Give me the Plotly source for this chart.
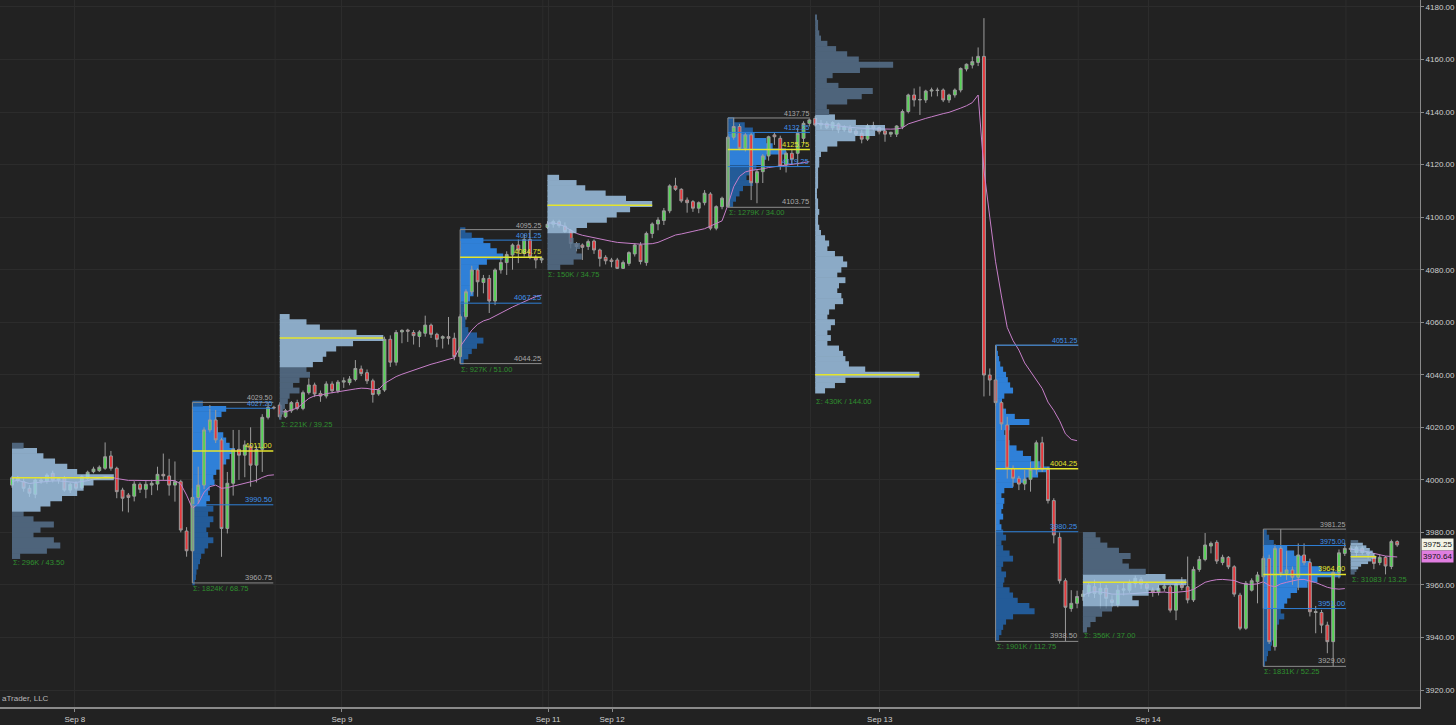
import plotly.graph_objects as go

# ---------------- 30-minute ES bars (index 0 = first bar of the Sep 8 session) ----------------
opens = [
    # Sep 8 session
    3998.0, 4000.6, 3999.3, 3996.8, 3994.5, 3999.9, 3999.5, 4002.5, 3999.9, 4000.6,
    3996.1, 3998.7, 3997.0, 4000.6, 4003.1, 4003.5, 4004.4, 4009.1, 4004.4, 3996.1,
    3994.2, 3993.8, 3998.3, 3996.4, 3998.0, 3998.4, 4002.1, 4001.5, 3998.0, 3999.3,
    3980.5, 3973.0, 3993.3, 3998.0, 4019.0, 4022.8, 4015.2, 3981.5, 3998.7, 4011.6,
    4009.4, 4012.9, 4005.6, 4011.6, 4023.8, 4027.6,
    # Sep 9 session
    4028.5, 4024.0, 4026.3, 4029.4, 4027.2, 4033.2, 4036.1, 4032.9, 4031.9, 4036.5,
    4033.9, 4037.2, 4037.0, 4038.2, 4042.2, 4040.8, 4037.7, 4032.7, 4034.2, 4053.5,
    4044.8, 4056.3, 4057.0, 4056.1, 4054.6, 4055.8, 4058.9, 4055.4, 4053.9, 4054.5,
    4053.9, 4046.9, 4062.1, 4071.6, 4079.9, 4075.1, 4076.7, 4068.1, 4079.9, 4082.7,
    4085.6, 4089.4, 4086.2, 4091.5, 4084.7, 4083.7,
    # Sep 11/12 session
    4096.1, 4097.3, 4098.3, 4096.6, 4094.9, 4089.8, 4089.4, 4088.8, 4090.9, 4087.5,
    4084.7, 4083.7, 4083.7, 4080.5, 4082.4, 4086.0, 4089.4, 4082.7, 4093.8, 4097.4,
    4098.7, 4102.4, 4111.9, 4110.6, 4106.5, 4105.9, 4103.4, 4105.5, 4108.8, 4095.8,
    4104.0, 4104.0, 4130.4, 4134.5, 4126.2, 4131.3, 4113.1, 4117.3, 4123.3, 4131.3,
    4130.0, 4119.9, 4124.3, 4124.3, 4130.0, 4135.7,
    # Sep 13 session
    4137.6, 4135.1, 4135.7, 4134.0, 4135.5, 4133.2, 4133.8, 4132.8, 4131.9, 4129.7,
    4134.8, 4134.1, 4132.8, 4131.6, 4131.6, 4134.4, 4140.2, 4146.5, 4144.6, 4144.6,
    4148.0, 4148.4, 4148.4, 4144.6, 4146.5, 4148.4, 4156.4, 4157.9, 4158.9, 4161.2,
    4039.9, 4038.0, 4029.4, 4020.9, 4004.4, 4000.6, 3998.4, 4000.2, 4004.0, 4014.1,
    4004.0, 3992.1, 3978.1, 3961.6, 3951.0, 3953.0,
    # Sep 14 session
    3955.6, 3956.8, 3959.3, 3956.5, 3958.7, 3954.3, 3952.5, 3958.0, 3958.0, 3960.6,
    3962.0, 3960.3, 3958.0, 3957.2, 3958.7, 3959.3, 3950.4, 3960.0, 3959.3, 3954.3,
    3965.9, 3969.7, 3974.8, 3976.2, 3968.5, 3970.5, 3966.9, 3956.1, 3943.5, 3958.0,
    3961.2, 3963.1, 3970.1, 3936.5, 3973.9, 3964.4, 3965.7, 3962.9, 3971.4, 3968.5,
    3949.5, 3949.5, 3944.7, 3938.4, 3964.7, 3972.0,
    # Sep 15 session
    3973.5, 3972.4, 3974.0, 3972.3, 3970.8, 3968.5, 3970.5, 3967.0, 3976.5,
]
highs = [
    4001.5, 4001.5, 4000.5, 3998.0, 4000.5, 4001.0, 4002.5, 4003.5, 4001.0, 4001.5,
    3999.0, 3999.5, 4001.8, 4003.5, 4005.0, 4005.5, 4014.25, 4011.0, 4005.0, 3997.0,
    3995.0, 3999.5, 3999.0, 3999.5, 4000.0, 4005.0, 4010.0, 4008.0, 4007.0, 4000.0,
    3982.0, 3996.8, 4005.0, 4020.0, 4028.5, 4026.6, 4016.0, 4003.0, 4019.0, 4019.0,
    4015.0, 4020.0, 4013.0, 4025.0, 4029.5, 4028.2,
    4029.5, 4027.0, 4030.0, 4030.5, 4034.0, 4038.6, 4037.0, 4034.0, 4037.5, 4037.5,
    4038.0, 4039.0, 4039.5, 4045.6, 4043.5, 4042.0, 4038.5, 4035.0, 4054.5, 4055.0,
    4057.0, 4057.3, 4057.5, 4057.0, 4057.0, 4062.5, 4059.5, 4056.0, 4055.0, 4062.0,
    4056.0, 4063.0, 4072.5, 4081.5, 4080.5, 4078.0, 4078.0, 4080.5, 4085.0, 4087.0,
    4090.0, 4091.5, 4093.5, 4095.25, 4085.5, 4085.0,
    4098.5, 4099.0, 4099.0, 4098.0, 4095.5, 4090.5, 4090.0, 4091.5, 4091.5, 4088.0,
    4085.5, 4084.5, 4084.5, 4083.5, 4087.0, 4090.0, 4090.5, 4094.5, 4098.0, 4100.0,
    4103.5, 4112.5, 4115.0, 4111.0, 4107.5, 4106.5, 4106.0, 4110.3, 4109.5, 4104.5,
    4107.8, 4131.0, 4137.75, 4135.5, 4132.0, 4132.0, 4118.0, 4124.0, 4131.0, 4132.2,
    4131.0, 4125.0, 4126.0, 4134.0, 4136.5, 4137.5,
    4138.5, 4137.0, 4136.5, 4136.5, 4136.0, 4135.0, 4135.0, 4133.5, 4133.2, 4135.5,
    4136.3, 4134.5, 4133.5, 4132.5, 4135.0, 4141.0, 4147.0, 4149.0, 4149.7, 4148.5,
    4149.3, 4149.3, 4149.0, 4147.0, 4149.0, 4157.0, 4158.5, 4161.1, 4164.6, 4175.75,
    4042.4, 4051.25, 4030.0, 4024.0, 4005.5, 4001.5, 4003.7, 4006.9, 4015.0, 4016.4,
    4005.0, 3993.0, 3980.0, 3962.5, 3958.0, 3957.8,
    3958.0, 3961.0, 3962.0, 3961.0, 3960.0, 3956.0, 3960.0, 3961.0, 3962.0, 3963.5,
    3963.0, 3961.0, 3959.0, 3960.0, 3960.5, 3960.0, 3961.0, 3963.0, 3970.8, 3967.0,
    3971.0, 3979.75, 3976.5, 3977.0, 3971.5, 3971.0, 3967.5, 3957.0, 3961.5, 3962.5,
    3965.0, 3971.0, 3971.5, 3975.5, 3981.25, 3973.0, 3967.0, 3975.8, 3975.8, 3970.0,
    3952.0, 3950.5, 3946.0, 3966.0, 3973.5, 3976.0,
    3975.0, 3975.0, 3975.0, 3973.0, 3972.0, 3971.5, 3971.0, 3977.25, 3977.0,
]
lows = [
    3997.0, 3999.0, 3995.5, 3993.5, 3993.0, 3998.5, 3998.5, 3999.0, 3998.5, 3995.5,
    3995.0, 3996.0, 3996.5, 4000.0, 4002.5, 4003.0, 4003.8, 4003.5, 3993.0, 3988.0,
    3987.6, 3991.8, 3995.0, 3993.0, 3994.2, 3996.0, 4000.0, 3994.0, 3991.7, 3980.0,
    3970.75, 3960.75, 3991.0, 3996.5, 4018.0, 4014.0, 3970.7, 3979.6, 3994.0, 4000.0,
    4001.0, 3997.4, 3999.0, 4003.0, 4023.0, 4026.8,
    4023.25, 4023.5, 4025.5, 4026.5, 4026.5, 4032.5, 4031.5, 4029.7, 4031.0, 4033.0,
    4033.0, 4035.0, 4036.0, 4037.5, 4039.5, 4036.5, 4029.4, 4032.0, 4033.5, 4043.0,
    4043.5, 4052.0, 4052.5, 4051.5, 4050.5, 4054.5, 4054.0, 4050.5, 4050.0, 4051.5,
    4045.5, 4044.25, 4061.0, 4070.5, 4069.7, 4071.0, 4063.5, 4066.5, 4078.5, 4078.0,
    4080.0, 4082.5, 4085.0, 4084.0, 4080.5, 4082.5,
    4095.5, 4096.0, 4096.0, 4094.0, 4088.1, 4087.0, 4083.7, 4087.5, 4086.0, 4081.2,
    4082.0, 4080.9, 4080.25, 4080.25, 4081.5, 4085.0, 4082.0, 4081.5, 4092.0, 4095.0,
    4097.0, 4101.5, 4110.0, 4105.5, 4101.7, 4102.0, 4101.5, 4104.5, 4095.0, 4095.0,
    4103.0, 4103.75, 4129.5, 4125.5, 4125.0, 4106.5, 4105.3, 4113.0, 4121.5, 4127.5,
    4118.0, 4117.0, 4120.0, 4119.5, 4128.0, 4134.5,
    4134.5, 4133.5, 4133.5, 4133.0, 4132.0, 4132.5, 4132.0, 4131.0, 4128.1, 4129.0,
    4133.0, 4131.5, 4128.7, 4130.5, 4130.5, 4133.5, 4139.5, 4142.1, 4138.9, 4143.5,
    4145.9, 4146.0, 4143.8, 4143.5, 4145.5, 4147.5, 4155.5, 4156.6, 4157.5, 4031.75,
    4032.0, 4028.1, 4019.0, 4000.5, 3997.4, 3996.1, 3996.1, 3995.5, 4002.0, 4003.0,
    3991.0, 3975.8, 3960.5, 3938.5, 3949.8, 3951.1,
    3954.0, 3955.5, 3955.0, 3951.0, 3951.0, 3951.5, 3951.5, 3956.0, 3957.0, 3959.0,
    3958.5, 3957.5, 3955.5, 3956.0, 3957.5, 3949.5, 3946.6, 3958.0, 3953.0, 3953.5,
    3965.0, 3969.0, 3972.0, 3968.0, 3967.5, 3966.0, 3955.5, 3942.75, 3942.9, 3957.5,
    3953.0, 3951.0, 3937.5, 3935.0, 3963.0, 3961.9, 3960.0, 3958.0, 3967.5, 3948.0,
    3941.6, 3941.6, 3934.0, 3929.0, 3962.5, 3971.0,
    3972.5, 3971.0, 3971.5, 3970.0, 3966.0, 3967.5, 3964.0, 3966.0, 3974.5,
]
closes = [
    4000.8, 3999.9, 3996.8, 3994.9, 3999.9, 3999.5, 4001.8, 3999.9, 4000.4, 3996.1,
    3998.3, 3996.8, 4001.2, 4002.9, 4004.1, 4004.8, 4008.8, 4004.4, 3995.5, 3993.0,
    3993.3, 3998.4, 3996.4, 3998.3, 3998.7, 4002.1, 4001.5, 3998.0, 3999.3, 3980.9,
    3973.0, 3993.3, 3998.0, 4019.0, 4022.8, 4015.2, 3981.5, 3998.7, 4011.6, 4009.4,
    4013.3, 4005.6, 4011.6, 4023.8, 4027.6, 4027.4,
    4024.0, 4026.3, 4029.4, 4027.2, 4033.2, 4036.1, 4032.7, 4031.9, 4036.5, 4033.9,
    4037.2, 4037.7, 4038.4, 4042.4, 4040.5, 4037.7, 4032.5, 4034.2, 4053.5, 4044.8,
    4056.1, 4056.9, 4056.6, 4054.9, 4056.3, 4058.9, 4055.4, 4053.5, 4054.5, 4053.9,
    4046.9, 4062.1, 4071.6, 4079.9, 4075.4, 4076.7, 4068.1, 4079.9, 4082.7, 4085.8,
    4089.4, 4087.5, 4091.5, 4084.9, 4083.7, 4084.3,
    4097.3, 4098.3, 4096.8, 4094.5, 4090.0, 4088.8, 4088.5, 4090.7, 4087.5, 4084.3,
    4083.4, 4083.1, 4080.5, 4082.7, 4086.5, 4089.4, 4083.1, 4093.8, 4097.4, 4098.9,
    4102.4, 4111.9, 4110.6, 4106.2, 4105.5, 4103.4, 4105.5, 4109.1, 4095.8, 4104.0,
    4107.2, 4130.4, 4134.5, 4126.2, 4131.3, 4113.1, 4117.3, 4123.3, 4130.6, 4130.6,
    4119.5, 4124.3, 4122.0, 4131.9, 4135.7, 4137.0,
    4135.1, 4135.7, 4134.0, 4136.0, 4133.2, 4134.4, 4132.3, 4131.6, 4129.7, 4134.7,
    4133.8, 4132.5, 4131.6, 4132.3, 4134.7, 4140.2, 4146.5, 4144.6, 4144.8, 4148.0,
    4148.4, 4148.2, 4144.6, 4146.5, 4148.4, 4156.6, 4158.2, 4159.2, 4161.2, 4039.9,
    4038.0, 4029.4, 4021.3, 4004.4, 4000.6, 3998.4, 4000.2, 4004.0, 4014.1, 4004.0,
    3992.1, 3979.0, 3961.6, 3951.5, 3953.0, 3955.6,
    3956.5, 3959.9, 3956.8, 3958.7, 3954.9, 3953.3, 3958.0, 3958.5, 3960.6, 3962.5,
    3960.3, 3958.7, 3957.2, 3958.7, 3959.6, 3950.4, 3960.3, 3959.0, 3954.3, 3965.9,
    3969.7, 3975.2, 3975.8, 3969.1, 3970.5, 3966.9, 3956.5, 3943.5, 3960.6, 3961.6,
    3963.8, 3970.1, 3938.4, 3973.9, 3964.4, 3965.7, 3962.9, 3971.4, 3968.5, 3949.8,
    3949.8, 3944.7, 3938.4, 3964.7, 3972.2, 3973.9,
    3974.0, 3974.2, 3972.3, 3971.8, 3968.2, 3970.5, 3967.2, 3976.5, 3975.25,
]
# session VWAP (violet line)
vwap = [
    3999.4, 3999.8, 3999.2, 3998.6, 3998.9, 3999.1, 3999.5, 3999.6, 3999.6, 3999.3,
    3999.2, 3999.0, 3999.3, 3999.7, 4000.3, 4000.6, 4001.2, 4001.0, 4000.5, 4000.1,
    3999.8, 3999.8, 3999.7, 3999.7, 3999.7, 3999.8, 3999.9, 3999.8, 3999.7, 3998.4,
    3994.2, 3989.1, 3991.0, 3995.3, 3997.4, 3998.0, 3996.8, 3997.0, 3997.6, 3998.1,
    3998.7, 3999.2, 3999.8, 4000.9, 4001.7, 4001.9,
    4026.2, 4025.8, 4026.6, 4027.3, 4029.2, 4031.0, 4032.0, 4032.2, 4032.8, 4033.2,
    4033.6, 4033.9, 4034.2, 4034.6, 4034.9, 4034.8, 4034.4, 4034.4, 4036.7, 4038.0,
    4039.3, 4040.2, 4041.0, 4041.6, 4042.4, 4043.3, 4044.0, 4044.6, 4045.3, 4046.0,
    4046.5, 4050.7, 4054.0, 4057.0, 4059.2, 4060.5, 4061.2, 4062.4, 4063.4, 4064.6,
    4065.8, 4066.8, 4067.8, 4069.0, 4069.8, 4070.3,
    4097.7, 4097.8, 4097.3, 4096.4, 4095.0, 4093.8, 4093.1, 4092.6, 4092.1, 4091.6,
    4091.2, 4090.8, 4090.4, 4090.2, 4090.0, 4089.9, 4089.7, 4089.8, 4089.9, 4090.4,
    4091.3, 4092.4, 4093.2, 4093.6, 4094.0, 4094.6, 4095.1, 4095.6, 4096.6, 4097.6,
    4098.6, 4104.6, 4111.6, 4115.5, 4117.2, 4117.8, 4118.0, 4118.4, 4118.9, 4119.2,
    4119.3, 4119.6, 4120.0, 4120.4, 4120.8, 4121.1,
    4135.8, 4135.5, 4135.2, 4135.0, 4134.7, 4134.4, 4134.2, 4134.0, 4133.8, 4133.7,
    4133.6, 4133.6, 4133.5, 4133.5, 4133.6, 4134.0, 4135.5, 4136.3, 4137.0, 4137.6,
    4138.2, 4138.9, 4139.4, 4139.9, 4140.6, 4141.5, 4142.4, 4143.6, 4146.5, 4118.0,
    4100.0, 4083.0, 4070.0, 4058.0, 4053.0, 4049.4, 4044.5, 4041.2, 4038.0, 4034.8,
    4029.6, 4026.4, 4022.5, 4017.5, 4015.4, 4014.9,
    3956.0, 3957.0, 3957.5, 3957.3, 3957.0, 3956.5, 3956.4, 3956.5, 3956.6, 3956.8,
    3957.0, 3957.1, 3957.1, 3957.2, 3957.3, 3957.0, 3957.2, 3957.4, 3957.6, 3958.3,
    3959.6, 3961.0, 3961.6, 3962.0, 3962.1, 3962.0, 3961.7, 3960.8, 3960.3, 3960.2,
    3960.4, 3961.2, 3959.8, 3959.3, 3960.4, 3961.0, 3961.6, 3962.0, 3962.1, 3961.5,
    3960.9, 3960.0, 3959.1, 3958.6, 3958.4, 3958.6,
    3973.6, 3973.4, 3973.1, 3972.5, 3971.9, 3971.5, 3971.0, 3970.8, 3970.64,
]
session_start_bars = [0, 46, 92, 138, 184, 230]

tick_pos = [10.8, 56.7, 92.1, 103.1, 149.1, 195.2]
tick_text = ["Sep 8", "Sep 9", "Sep 11", "Sep 12", "Sep 13", "Sep 14"]
day_break_pos = [45.2, 91.2, 137.2, 183.2, 229.2]
y_ticks = [3920, 3940, 3960, 3980, 4000, 4020, 4040, 4060, 4080, 4100, 4120, 4140, 4160, 4180]

# ---------------- overnight (ETH) volume profiles ----------------
eth1_prices = [3971, 3973, 3975, 3977, 3979, 3981, 3983, 3985, 3987, 3989, 3991,
               3993, 3995, 3997, 3999, 4001, 4003, 4005, 4007, 4009, 4011, 4013]
eth1_widths = [1.4, 6.0, 8.3, 7.2, 3.7, 4.9, 7.2, 3.7, 2.0, 4.9, 6.6,
               8.6, 11.2, 12.3, 14.0, 17.5, 11.2, 9.5, 7.4, 5.4, 4.3, 2.0]
eth2_prices = [4024, 4026, 4028, 4030, 4032, 4034, 4036, 4038, 4040, 4042,
               4044, 4046, 4048, 4050, 4052, 4054, 4056, 4058, 4060, 4062]
eth2_widths = [0.3, 0.6, 0.9, 1.4, 1.7, 3.4, 2.3, 3.4, 5.2, 4.6,
               5.7, 7.4, 8.0, 9.7, 12.6, 17.8, 13.2, 6.9, 4.6, 1.7]
eth3_prices = [4081, 4083, 4085, 4087, 4089, 4091, 4093, 4095, 4097,
               4099, 4101, 4103, 4105, 4107, 4109, 4111, 4113, 4115]
eth3_widths = [2.2, 4.5, 5.9, 5.0, 5.6, 4.5, 3.9, 5.0, 6.8,
               10.2, 11.9, 14.2, 18.0, 13.5, 10.0, 6.5, 5.0, 2.0]
eth4_prices = [4034, 4036, 4038, 4040, 4042, 4044, 4046, 4048, 4050, 4052,
               4054, 4056, 4058, 4060, 4062, 4064, 4066, 4068, 4070, 4072,
               4074, 4076, 4078, 4080, 4082, 4084, 4086, 4088, 4090, 4092,
               4094, 4096, 4098, 4100, 4102, 4104, 4106, 4108, 4110, 4112,
               4114, 4116, 4118, 4120, 4122, 4124, 4126, 4128, 4130, 4132,
               4134, 4136, 4138, 4140, 4142, 4144, 4146, 4148, 4150, 4152,
               4154, 4156, 4158, 4160, 4162, 4164, 4166, 4168, 4170, 4172,
               4174, 4176]
eth4_widths = [1.7, 3.4, 5.2, 17.9, 8.6, 5.8, 5.2, 4.8, 4.1, 2.1,
               2.7, 2.1, 2.7, 3.4, 2.1, 2.4, 3.4, 4.8, 4.5, 3.8,
               4.1, 5.2, 3.8, 4.5, 5.5, 4.8, 3.4, 2.1, 2.4, 1.7,
               1.0, 0.7, 0.5, 0.5, 0.7, 0.5, 0.5, 0.3, 0.3, 0.5,
               0.5, 0.5, 0.5, 0.7, 0.7, 1.0, 2.1, 3.8, 6.9, 10.3,
               12.0, 7.0, 3.4, 2.4, 2.0, 5.5, 8.0, 9.9, 4.0, 2.0,
               3.0, 7.7, 13.4, 7.5, 5.5, 3.6, 2.1, 1.0, 0.7, 0.5,
               0.5, 0.3]
eth5_prices = [3943, 3945, 3947, 3949, 3951, 3953, 3955, 3957, 3959, 3961,
               3963, 3965, 3967, 3969, 3971, 3973, 3975, 3977, 3979]
eth5_widths = [0.7, 1.3, 2.2, 3.3, 5.0, 9.6, 8.5, 11.3, 13.1, 17.8,
               14.2, 10.8, 7.9, 6.8, 8.2, 6.2, 4.2, 3.0, 2.2]
eth6_prices = [3964.5, 3965.5, 3966.5, 3967.5, 3968.5, 3969.5, 3970.5,
               3971.5, 3972.5, 3973.5, 3974.5, 3975.5, 3976.5]
eth6_widths = [0.7, 1.0, 1.3, 1.8, 3.0, 3.6, 4.4, 4.1, 3.8, 3.3, 2.7, 2.1, 1.3]

eth_start = [0, 46, 92, 138, 184, 230]
eth_row_h = [2, 2, 2, 2, 2, 1]
eth_poc = [4000.75, 4054.0, 4104.5, 4040.0, 3961.0, 3970.75]
eth_va_lo = [3987.5, 4043.5, 4093.5, 4031.0, 3952.0, 3966.0]
eth_va_hi = [4012.0, 4064.0, 4116.0, 4138.0, 3964.0, 3976.0]
eth_low = [3970.75, 4023.25, 4080.25, 4031.75, 3942.75, 3964.0]
eth_sum = ["Σ: 296K / 43.50", "Σ: 221K / 39.25", "Σ: 150K / 34.75",
           "Σ: 430K / 144.00", "Σ: 356K / 37.00", "Σ: 31083 / 13.25"]

# ---------------- regular-session (RTH) volume profiles ----------------
rth1_prices = [3961, 3963, 3965, 3967, 3969, 3971, 3973, 3975, 3977, 3979,
               3981, 3983, 3985, 3987, 3989, 3991, 3993, 3995, 3997, 3999,
               4001, 4003, 4005, 4007, 4009, 4011, 4013, 4015, 4017, 4019,
               4021, 4023, 4025, 4027, 4029]
rth1_widths = [0.4, 0.6, 0.7, 1.0, 1.3, 1.5, 2.1, 2.7, 3.6, 2.7,
               2.4, 3.0, 3.6, 2.7, 3.6, 2.4, 3.0, 2.7, 3.0, 3.8,
               3.6, 4.1, 5.0, 5.8, 6.4, 7.3, 6.4, 5.8, 5.3, 4.4,
               3.8, 4.1, 5.0, 5.8, 1.8]
rth2_prices = [4045, 4047, 4049, 4051, 4053, 4055, 4057, 4059, 4061, 4063,
               4065, 4067, 4069, 4071, 4073, 4075, 4077, 4079, 4081, 4083,
               4085, 4087, 4089, 4091, 4093, 4095]
rth2_widths = [0.6, 1.4, 2.0, 2.9, 4.0, 2.9, 1.4, 0.9, 0.9, 0.6,
               0.7, 0.9, 1.7, 2.3, 1.7, 2.0, 1.7, 2.3, 3.2, 4.6,
               7.4, 6.3, 5.2, 4.0, 2.0, 0.9]
rth3_prices = [4105, 4107, 4109, 4111, 4113, 4115, 4117, 4119, 4121,
               4123, 4125, 4127, 4129, 4131, 4133, 4135, 4137]
rth3_widths = [0.9, 1.4, 2.0, 2.6, 4.3, 3.2, 4.3, 4.9, 5.7,
               6.6, 10.0, 7.7, 6.6, 4.6, 4.3, 2.9, 1.1]
rth4_prices = [3940, 3942, 3944, 3946, 3948, 3950, 3952, 3954, 3956, 3958,
               3960, 3962, 3964, 3966, 3968, 3970, 3972, 3974, 3976, 3978,
               3980, 3982, 3984, 3986, 3988, 3990, 3992, 3994, 3996, 3998,
               4000, 4002, 4004, 4006, 4008, 4010, 4012, 4014, 4016, 4018,
               4020, 4022, 4024, 4026, 4028, 4030, 4032, 4034, 4036, 4038,
               4040, 4042, 4044, 4046, 4048, 4050]
rth4_widths = [0.6, 1.0, 1.3, 1.8, 3.0, 6.7, 5.8, 3.8, 3.0, 2.4,
               1.3, 1.5, 1.8, 1.0, 1.3, 3.0, 2.4, 1.3, 1.0, 1.8,
               1.3, 1.0, 0.7, 1.3, 1.0, 1.3, 1.5, 1.0, 1.5, 3.0,
               5.3, 7.3, 9.3, 7.6, 6.1, 4.7, 3.6, 2.4, 1.8, 1.5,
               2.4, 5.8, 3.3, 1.8, 1.0, 1.1, 1.5, 3.0, 2.5, 2.1,
               1.8, 1.3, 0.8, 0.6, 0.4, 0.2]
rth5_prices = [3930, 3932, 3934, 3936, 3938, 3940, 3942, 3944, 3946, 3948,
               3950, 3952, 3954, 3956, 3958, 3960, 3962, 3964, 3966, 3968,
               3970, 3972, 3974, 3976, 3978, 3980]
rth5_widths = [0.3, 0.6, 0.8, 1.3, 1.5, 1.8, 2.1, 2.4, 2.7, 3.6,
               3.0, 3.6, 4.1, 4.7, 5.8, 7.6, 9.3, 13.3, 9.9, 8.1,
               7.0, 5.3, 4.1, 1.8, 1.0, 0.6]

rth_start = [31, 77, 123, 169, 215]
rth_end = [44.9, 91.0, 137.1, 183.2, 229.2]
rth_high = [4029.50, 4095.25, 4137.75, 4051.25, 3981.25]
rth_low = [3960.75, 4044.25, 4103.75, 3938.50, 3929.00]
rth_vah = [4027.25, 4091.25, 4132.25, 4051.25, 3975.00]
rth_val = [3990.50, 4067.25, 4119.25, 3980.25, 3951.00]
rth_poc = [4011.00, 4084.75, 4125.75, 4004.25, 3964.00]
rth_sum = ["Σ: 1824K / 68.75", "Σ: 927K / 51.00", "Σ: 1279K / 34.00",
           "Σ: 1901K / 112.75", "Σ: 1831K / 52.25"]

# ---------------- styling ----------------
BG = "#222222"
GRID = "#2c2c2c"
AXIS = "#8a8a8a"
TXT = "#cfcfcf"
UP = "#55d455"
DN = "#e8383c"
WICK = "#9c9c9c"
VIOLET = "#c77fc9"
ETH_VA = "#a3c9ea"
ETH_OUT = "#58738f"
RTH_VA = "#2f80d8"
RTH_OUT = "#235b98"
POC_C = "#e4e42c"
VA_TXT = "#3f90e8"
HL_C = "#8c8c8c"
SUM_C = "#2f8f2f"
FONT = "Liberation Sans, Arial, sans-serif"
ROW_OVERLAP = 1.12

n = len(opens)
for arr in (highs, lows, closes, vwap):
    assert len(arr) == n, len(arr)
bars = list(range(n))

xr = [-2.06, 241.92]
yr = [3913.53, 4182.66]

fig = go.Figure()

# RTH profiles (behind the candles)
rth_prices = [rth1_prices, rth2_prices, rth3_prices, rth4_prices, rth5_prices]
rth_widths = [rth1_widths, rth2_widths, rth3_widths, rth4_widths, rth5_widths]
for k in range(5):
    assert len(rth_prices[k]) == len(rth_widths[k])
    cols = [RTH_VA if rth_val[k] <= p <= rth_vah[k] else RTH_OUT for p in rth_prices[k]]
    fig.add_trace(go.Bar(orientation="h", y=rth_prices[k], x=rth_widths[k], base=rth_start[k],
                         width=2 * ROW_OVERLAP, marker=dict(color=cols, line=dict(width=0)),
                         hoverinfo="skip", showlegend=False))

# candles
fig.add_trace(go.Candlestick(
    x=bars, open=opens, high=highs, low=lows, close=closes,
    increasing=dict(fillcolor=UP, line=dict(color=WICK, width=1)),
    decreasing=dict(fillcolor=DN, line=dict(color=WICK, width=1)),
    whiskerwidth=0, hoverinfo="skip", showlegend=False))

# VWAP line, broken at each session start
vx, vy = [], []
for i, v in enumerate(vwap):
    if i in session_start_bars and i != 0:
        vx.append(None)
        vy.append(None)
    vx.append(i)
    vy.append(v)
fig.add_trace(go.Scatter(x=vx, y=vy, mode="lines", line=dict(color=VIOLET, width=1),
                         hoverinfo="skip", showlegend=False))

# ETH profiles drawn above candles (overlay axis)
eth_prices = [eth1_prices, eth2_prices, eth3_prices, eth4_prices, eth5_prices, eth6_prices]
eth_widths = [eth1_widths, eth2_widths, eth3_widths, eth4_widths, eth5_widths, eth6_widths]
poc_x, poc_y = [], []
for k in range(6):
    assert len(eth_prices[k]) == len(eth_widths[k]), k
    cols = [ETH_VA if eth_va_lo[k] <= p <= eth_va_hi[k] else ETH_OUT for p in eth_prices[k]]
    fig.add_trace(go.Bar(orientation="h", y=eth_prices[k], x=eth_widths[k], base=eth_start[k],
                         width=eth_row_h[k] * ROW_OVERLAP,
                         marker=dict(color=cols, line=dict(width=0)),
                         opacity=0.82, xaxis="x", yaxis="y2",
                         hoverinfo="skip", showlegend=False))
    poc_x += [eth_start[k], eth_start[k] + max(eth_widths[k]), None]
    poc_y += [eth_poc[k], eth_poc[k], None]

# RTH box lines
hl_x, hl_y, va_x, va_y = [], [], [], []
for k in range(5):
    x0, x1 = rth_start[k], rth_end[k]
    hl_x += [x0, x1, None, x0, x1, None, x0, x0, None]
    hl_y += [rth_high[k], rth_high[k], None, rth_low[k], rth_low[k], None,
             rth_low[k], rth_high[k], None]
    va_x += [x0, x1, None, x0, x1, None]
    va_y += [rth_vah[k], rth_vah[k], None, rth_val[k], rth_val[k], None]
    poc_x += [x0, x1, None]
    poc_y += [rth_poc[k], rth_poc[k], None]

fig.add_trace(go.Scatter(x=hl_x, y=hl_y, mode="lines", line=dict(color=HL_C, width=1),
                         xaxis="x", yaxis="y2", hoverinfo="skip", showlegend=False))
fig.add_trace(go.Scatter(x=va_x, y=va_y, mode="lines", line=dict(color=RTH_VA, width=1),
                         xaxis="x", yaxis="y2", hoverinfo="skip", showlegend=False))
fig.add_trace(go.Scatter(x=poc_x, y=poc_y, mode="lines", line=dict(color=POC_C, width=1.5),
                         xaxis="x", yaxis="y2", hoverinfo="skip", showlegend=False))

# ---------------- text labels ----------------
def label(x, y, text, color, xanchor, yanchor, size=7.5):
    fig.add_annotation(x=x, y=y, xref="x", yref="y", text=text, showarrow=False,
                       xanchor=xanchor, yanchor=yanchor, borderpad=0,
                       font=dict(family=FONT, size=size, color=color))

for k in range(5):
    x1 = rth_end[k]
    if rth_high[k] != rth_vah[k]:
        label(x1, rth_high[k], f"{rth_high[k]:.2f}", "#a8a8a8", "right", "bottom", 7)
    label(x1, rth_vah[k], f"{rth_vah[k]:.2f}", VA_TXT, "right", "bottom", 7)
    label(x1, rth_poc[k], f"{rth_poc[k]:.2f}", POC_C, "right", "bottom")
    label(x1, rth_val[k], f"{rth_val[k]:.2f}", VA_TXT, "right", "bottom")
    label(x1, rth_low[k], f"{rth_low[k]:.2f}", "#a8a8a8", "right", "bottom")
    label(rth_start[k], rth_low[k], rth_sum[k], SUM_C, "left", "top")

for k in range(6):
    label(eth_start[k], eth_low[k], eth_sum[k], SUM_C, "left", "top")

# price tags on the right axis
fig.add_annotation(x=1, xref="paper", y=closes[-1], yref="y", xanchor="left", xshift=1,
                   text=f"{closes[-1]:.2f}", showarrow=False, bgcolor="#f3f3e6",
                   borderpad=1, font=dict(family=FONT, size=8, color="#111111"))
fig.add_annotation(x=1, xref="paper", y=vwap[-1], yref="y", xanchor="left", xshift=1,
                   text=f"{vwap[-1]:.2f}", showarrow=False, bgcolor="#e07ee0",
                   borderpad=1, font=dict(family=FONT, size=8, color="#111111"))

# watermark
fig.add_annotation(x=0, xref="paper", y=0, yref="paper", xanchor="left", yanchor="bottom",
                   yshift=2, text="aTrader, LLC", showarrow=False,
                   font=dict(family=FONT, size=8, color="#b8b8b8"))

for xb in day_break_pos:
    fig.add_shape(type="line", xref="x", yref="paper", x0=xb, x1=xb, y0=0, y1=1,
                  line=dict(color=GRID, width=1), layer="below")

fig.update_layout(
    width=1456, height=725,
    margin=dict(l=0, r=36, t=0, b=18),
    paper_bgcolor=BG, plot_bgcolor=BG,
    barmode="overlay", showlegend=False, hovermode=False,
    font=dict(family=FONT, size=8, color=TXT),
    xaxis=dict(range=xr, tickvals=tick_pos, ticktext=tick_text, showgrid=True,
               gridcolor=GRID, gridwidth=1, zeroline=False, showline=True,
               linecolor=AXIS, linewidth=2, ticks="outside", ticklen=3, tickcolor=AXIS,
               tickfont=dict(family=FONT, size=8, color=TXT),
               rangeslider=dict(visible=False), fixedrange=True),
    yaxis=dict(range=yr, side="right", tickvals=y_ticks, tickformat=".2f",
               showgrid=True, gridcolor=GRID, gridwidth=1, zeroline=False,
               showline=True, linecolor=AXIS, linewidth=1, ticks="outside",
               ticklen=3, tickcolor=AXIS, automargin=False,
               tickfont=dict(family=FONT, size=8, color=TXT), fixedrange=True),
    yaxis2=dict(range=yr, overlaying="y", visible=False, fixedrange=True),
)

fig.write_html("out.html", config={"displayModeBar": False},
               post_script="document.body.style.margin='0';document.body.style.overflow='hidden';")
